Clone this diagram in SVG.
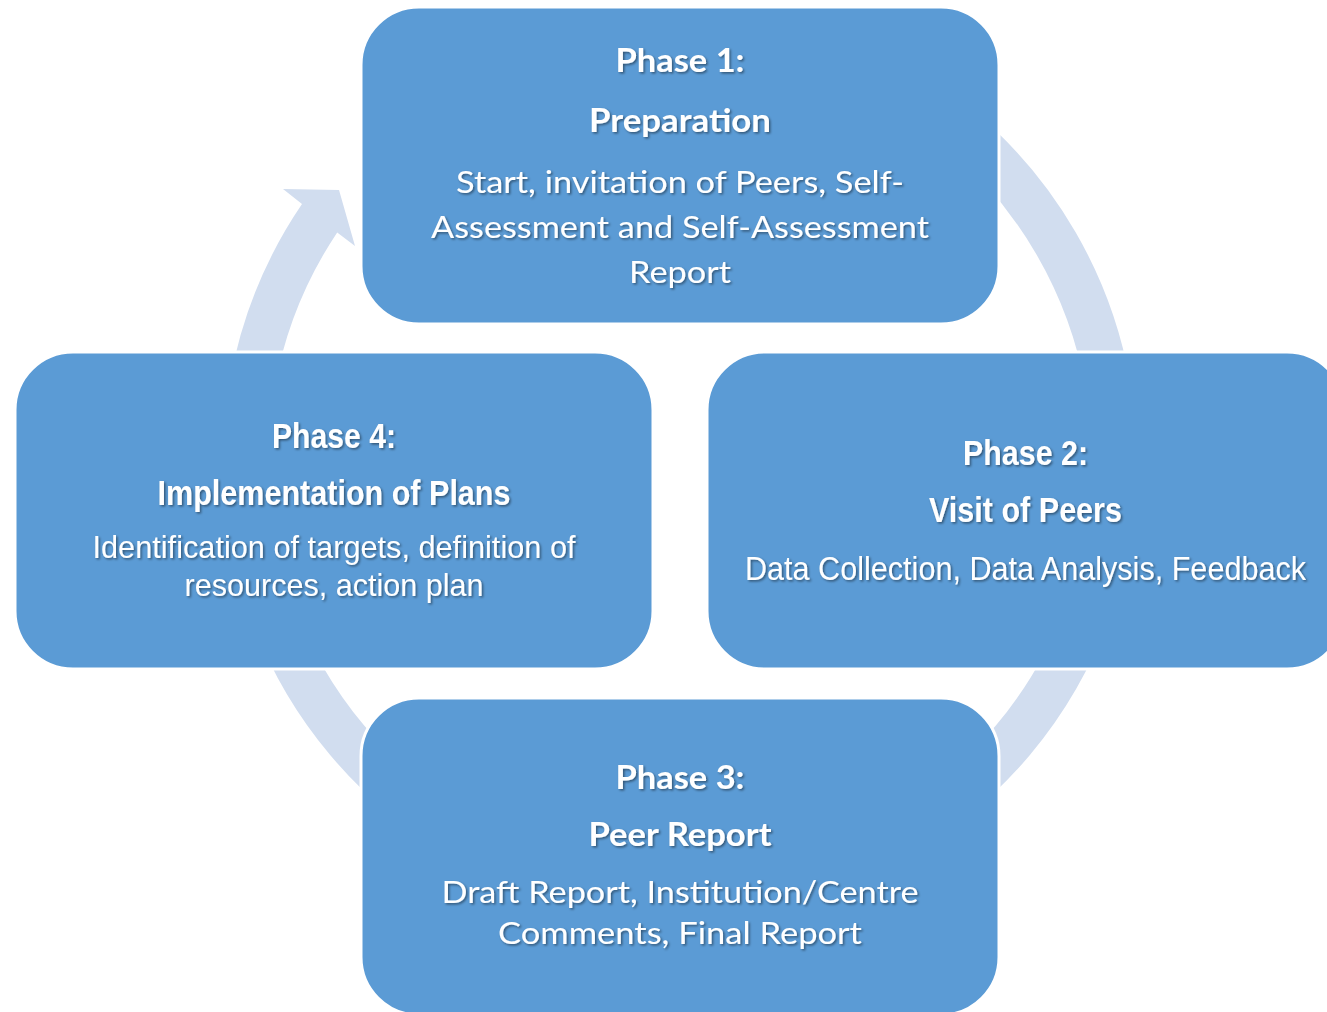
<svg xmlns="http://www.w3.org/2000/svg" width="1327" height="1012" viewBox="0 0 1327 1012">
<defs>
<filter id="sh" x="-5%" y="-20%" width="110%" height="150%">
<feDropShadow dx="1.5" dy="1.5" stdDeviation="1" flood-color="#000" flood-opacity="0.45"/>
</filter>
<style>
.ring{fill:#D1DDEF;}
.arc{fill:none;stroke:#D1DDEF;stroke-width:45;}
.box{fill:#5B9BD5;stroke:#FFFFFF;stroke-width:3;}
.t{fill:#FFFFFF;text-anchor:middle;filter:url(#sh);}
.ca{font-family:Lato,"Open Sans","Liberation Sans",sans-serif;}
.ar{font-family:"Liberation Sans Narrow","Liberation Sans",Arial,sans-serif;}
.b{font-weight:bold;}
.h1{font-size:32px;}
.b1{font-size:30px;}
.h2{font-size:35px;}
.b2{font-size:32px;}
.b3{font-size:34px;}
</style>
</defs>
<rect width="1327" height="1012" fill="#FFFFFF"/>
<g id="connectors">
<path class="arc" d="M 959.3 128.2 A 434.5 434.5 0 0 1 1107.9 385.5"/>
<path class="arc" d="M 1088.3 609.6 A 434.5 434.5 0 0 1 897.3 837.3"/>
<path class="arc" d="M 462.8 837.3 A 434.5 434.5 0 0 1 271.7 609.6"/>
<path class="ring" d="M 229.9 381.6 A 457 457 0 0 1 302 204.1 L 283 189 L 339 190 L 355 246 L 337.2 232.4 A 412 412 0 0 0 274.3 389.5 Z"/>
</g>
<g id="phase4">
<rect class="box" x="15" y="352" width="638" height="317" rx="58" ry="58"/>
<text class="t ar b h2" x="334" y="448" textLength="124" lengthAdjust="spacingAndGlyphs">Phase 4:</text>
<text class="t ar b h2" x="334" y="505" textLength="353" lengthAdjust="spacingAndGlyphs">Implementation of Plans</text>
<text class="t ar b2" x="334" y="558" textLength="483" lengthAdjust="spacingAndGlyphs">Identification of targets, definition of</text>
<text class="t ar b2" x="334" y="596" textLength="299" lengthAdjust="spacingAndGlyphs">resources, action plan</text>
</g>
<g id="phase2">
<rect class="box" x="707" y="352" width="638" height="317" rx="58" ry="58"/>
<text class="t ar b h2" x="1025.5" y="465" textLength="125" lengthAdjust="spacingAndGlyphs">Phase 2:</text>
<text class="t ar b h2" x="1025.5" y="522" textLength="193" lengthAdjust="spacingAndGlyphs">Visit of Peers</text>
<text class="t ar b3" x="1025.5" y="580" textLength="561" lengthAdjust="spacingAndGlyphs">Data Collection, Data Analysis, Feedback</text>
</g>
<g id="phase3">
<rect class="box" x="361" y="698" width="638" height="317" rx="58" ry="58"/>
<text class="t ca b h1" x="680" y="789" textLength="129" lengthAdjust="spacingAndGlyphs">Phase 3:</text>
<text class="t ca b h1" x="680" y="846" textLength="183" lengthAdjust="spacingAndGlyphs">Peer Report</text>
<text class="t ca b1" x="680" y="903" textLength="477" lengthAdjust="spacingAndGlyphs">Draft Report, Institution/Centre</text>
<text class="t ca b1" x="680" y="944" textLength="364" lengthAdjust="spacingAndGlyphs">Comments, Final Report</text>
</g>
<g id="phase1">
<rect class="box" x="361" y="7" width="638" height="317" rx="58" ry="58"/>
<text class="t ca b h1" x="680" y="72" textLength="129" lengthAdjust="spacingAndGlyphs">Phase 1:</text>
<text class="t ca b h1" x="680" y="132" textLength="182" lengthAdjust="spacingAndGlyphs">Preparation</text>
<text class="t ca b1" x="680" y="193" textLength="448" lengthAdjust="spacingAndGlyphs">Start, invitation of Peers, Self-</text>
<text class="t ca b1" x="680" y="238" textLength="498" lengthAdjust="spacingAndGlyphs">Assessment and Self-Assessment</text>
<text class="t ca b1" x="680" y="283" textLength="102" lengthAdjust="spacingAndGlyphs">Report</text>
</g>
</svg>
